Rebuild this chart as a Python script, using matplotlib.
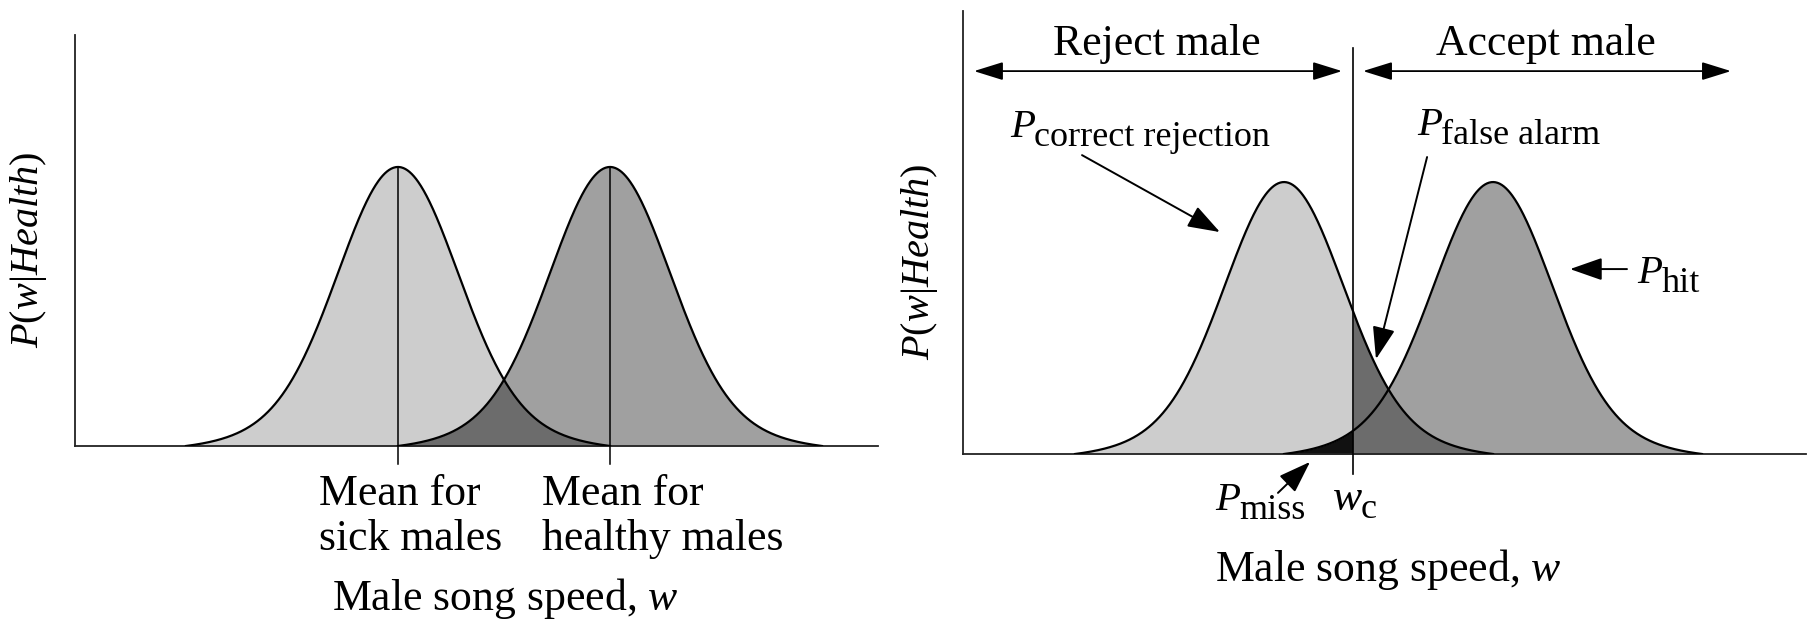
import numpy as np
import matplotlib
matplotlib.use("Agg")
import matplotlib.pyplot as plt

# ---------------- data ----------------
means_left = [3.0, 5.0]        # sick, healthy (song-speed units)
means_right = [3.0, 5.0]
core_sd = 0.55                 # width of the main body of each distribution
tail_sd = 1.0                  # width of the broad foot
tail_weight = 0.15             # share of the broad foot in the peak height
support = 2.0                  # half-width where the drawn curve meets the axis
peak = 1.0
w_c = 3.66                     # acceptance criterion
mean_labels = [("Mean for", "sick males"), ("Mean for", "healthy males")]
xlabel_text = "Male song speed, $w$"
ylabel_text = r"$P(w|Health)$"
region_labels = ["Reject male", "Accept male"]
prob_subs = ["correct rejection", "false alarm", "hit", "miss"]

LIGHT = "#cdcdcd"
MEDIUM = "#a0a0a0"
DARK = "#6c6c6c"
BLACK = "#111111"

plt.rcParams["font.family"] = ["Liberation Serif", "DejaVu Serif"]
plt.rcParams["mathtext.fontset"] = "custom"
plt.rcParams["mathtext.rm"] = "Liberation Serif"
plt.rcParams["mathtext.it"] = "Liberation Serif:italic"

W, H = 1811, 622
fig = plt.figure(figsize=(W / 100, H / 100), dpi=100)


def axes_px(left, right, bottom, top):
    return fig.add_axes([left / W, 1 - bottom / H, (right - left) / W, (bottom - top) / H])


def bell(d):
    return ((1 - tail_weight) * np.exp(-0.5 * (d / core_sd) ** 2)
            + tail_weight * np.exp(-0.5 * (d / tail_sd) ** 2))


def density(x, mu):
    d = x - mu
    edge = bell(support)
    y = peak * (bell(d) - edge) / (bell(0.0) - edge)
    return np.where(np.abs(d) <= support, y, 0.0)


def style(ax, xlim, ylim):
    ax.set_xlim(*xlim)
    ax.set_ylim(*ylim)
    for s in ["top", "right"]:
        ax.spines[s].set_visible(False)
    for s in ["left", "bottom"]:
        ax.spines[s].set_linewidth(1.3)
        ax.spines[s].set_color("#222222")
    ax.set_xticks([])
    ax.set_yticks([])
    ax.patch.set_alpha(0)


def outline(ax, mu):
    xs = np.linspace(mu - support, mu + support, 600)
    ax.plot(xs, density(xs, mu), color="black", lw=1.6, zorder=5)


MAIN = 31.5
PSIZE = 29.5
SUBSIZE = 26


def plabel(ax, x, y, sub):
    ax.text(x, y, "P", fontstyle="italic", fontsize=PSIZE, ha="left", va="baseline")
    ax.annotate(sub, xy=(x, y), xytext=(17.5, -6.5), textcoords="offset points",
                fontsize=SUBSIZE, ha="left", va="baseline", annotation_clip=False)


# ---------------- left panel ----------------
axL = axes_px(75, 878, 446, 35)
style(axL, (-0.047, 7.528), (0, 1.473))
xg = np.linspace(-0.05, 7.55, 3000)
fs = density(xg, means_left[0])
fh = density(xg, means_left[1])
axL.fill_between(xg, 0, fs, color=LIGHT, lw=0)
axL.fill_between(xg, 0, fh, color=MEDIUM, lw=0)
axL.fill_between(xg, 0, np.minimum(fs, fh), color=DARK, lw=0)
for mu in means_left:
    outline(axL, mu)
    axL.plot([mu, mu], [-0.0645, peak], color="black", lw=1.1, clip_on=False, zorder=6)

label_x = [2.255, 4.358]
for (l1, l2), lx in zip(mean_labels, label_x):
    axL.text(lx, -0.211, l1, fontsize=MAIN, ha="left", va="baseline")
    axL.text(lx, -0.373, l2, fontsize=MAIN, ha="left", va="baseline")
axL.text(4.01, -0.588, xlabel_text, fontsize=MAIN, ha="center", va="baseline")
fig.text(29 / W, 1 - 250 / H, ylabel_text, fontsize=29, rotation=90, ha="center", va="center")

# ---------------- right panel ----------------
axR = axes_px(963, 1806, 454, 11)
style(axR, (-0.072, 7.995), (0, 1.629))
xg = np.linspace(-0.08, 8.0, 3000)
fs = density(xg, means_right[0])
fh = density(xg, means_right[1])
axR.fill_between(xg, 0, fs, color=LIGHT, lw=0)
axR.fill_between(xg, 0, fh, color=MEDIUM, lw=0)
axR.fill_between(xg, 0, fs, where=xg >= w_c, color=DARK, lw=0)
axR.fill_between(xg, 0, fh, where=xg <= w_c, color=BLACK, lw=0)
for mu in means_right:
    outline(axR, mu)
axR.plot([w_c, w_c], [-0.0735, 1.493], color="black", lw=1.2, clip_on=False, zorder=6)

# region arrows
dbl = dict(arrowstyle="<|-|>,head_length=0.9,head_width=0.28", mutation_scale=20,
           lw=1.3, color="#555555", fc="black", ec="black", shrinkA=0, shrinkB=0)
axR.annotate("", xy=(0.033, 1.408), xytext=(3.555, 1.408), arrowprops=dbl, annotation_clip=False)
axR.annotate("", xy=(3.756, 1.408), xytext=(7.277, 1.408), arrowprops=dbl, annotation_clip=False)
axR.text(1.784, 1.467, region_labels[0], fontsize=MAIN, ha="center", va="baseline")
axR.text(5.507, 1.467, region_labels[1], fontsize=MAIN, ha="center", va="baseline")

ptr = dict(arrowstyle="-|>,head_length=1.0,head_width=0.35", mutation_scale=20,
           lw=1.4, color="black", shrinkA=0, shrinkB=0)
# correct rejection
plabel(axR, 0.378, 1.165, prob_subs[0])
axR.annotate("", xy=(2.387, 0.816), xytext=(1.067, 1.099), arrowprops=ptr)
# false alarm
plabel(axR, 4.27, 1.173, prob_subs[1])
axR.annotate("", xy=(3.88, 0.349), xytext=(4.369, 1.092), arrowprops=ptr)
# hit
plabel(axR, 6.378, 0.629, prob_subs[2])
axR.annotate("", xy=(5.737, 0.680), xytext=(6.282, 0.680), arrowprops=ptr)
# miss
plabel(axR, 2.342, -0.206, prob_subs[3])
axR.annotate("", xy=(3.249, -0.029), xytext=(2.942, -0.143), arrowprops=ptr, annotation_clip=False)
# w_c
axR.text(3.47, -0.206, "w", fontstyle="italic", fontsize=MAIN, ha="left", va="baseline")
axR.annotate("c", xy=(3.47, -0.206), xytext=(19.5, -6.0), textcoords="offset points",
             fontsize=SUBSIZE, ha="left", va="baseline", annotation_clip=False)
axR.text(3.995, -0.467, xlabel_text, fontsize=MAIN, ha="center", va="baseline")
fig.text(920 / W, 1 - 262 / H, ylabel_text, fontsize=29, rotation=90, ha="center", va="center")

fig.savefig("out.png", dpi=100)
